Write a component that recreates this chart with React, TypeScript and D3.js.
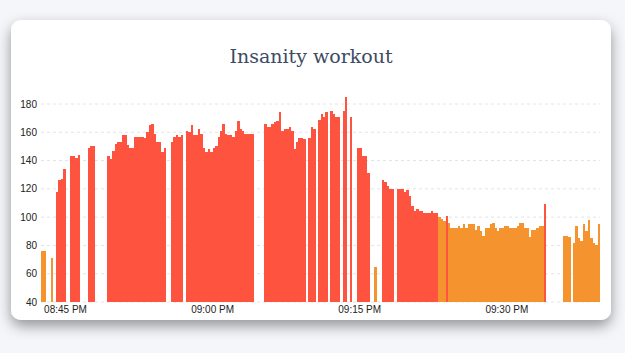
import React from "react";
import * as d3 from "d3";

// heart rate samples, one every 15 seconds from 08:42:30 PM (null = no reading)
const startTime = new Date(2017, 0, 15, 20, 42, 30);
const stepSeconds = 15;
const bpm: (number | null)[] = [
    76, 76, null, null, 71, null, 118, 126, 127, 134,
    null, null, 143, 143, 142, 144, null, null, null, 149,
    150, 150, null, null, null, null, null, 143, 141, 147,
    152, 153, 153, 158, 158, 151, 149, 149, 157, 157,
    157, 157, 156, 160, 165, 166, 159, 153, 153, 146,
    149, null, null, 153, 157, 158, 157, 158, null, 161,
    160, 165, 158, 158, 162, 159, 149, 146, 148, 146,
    149, 150, 157, 161, 166, 159, 158, 158, 157, 161,
    168, 162, 161, 159, 159, 159, 159, null, null, null,
    null, 166, 164, 164, 166, 167, 168, 174, 161, 162,
    162, 164, 161, 148, 153, 156, 156, 155, null, 156,
    164, 162, null, 169, 173, 171, 174, null, 175, 173,
    171, 171, null, 175, 185, null, 171, null, null, 149,
    149, 143, 143, 131, null, null, 65, null, null, 126,
    125, 122, 120, 120, null, 120, 120, 120, 118, 119,
    115, 108, 104, 106, 104, 104, 103, 103, 103, 104,
    103, 103, 100, 99, 97, 101, 96, 92, 92, 92,
    94, 92, 95, 92, 95, 95, 95, 91, 94, 90,
    87, 92, 92, 95, 96, 92, 90, 92, 92, 94,
    94, 92, 92, 92, 94, 96, 96, 92, 92, 86,
    91, 91, 92, 94, 94, 109, null, null, null, null,
    null, null, null, 87, 87, 86, null, 82, 94, 85,
    83, 95, 90, 98, 85, 82, 80, 95,
];
const yTicks = [40, 60, 80, 100, 120, 140, 160, 180];
const threshold = 100;

const W = 625;
const H = 353;

const InsanityChart = () => {
    const t = (i: number) => new Date(startTime.getTime() + i * stepSeconds * 1000);

    const x = d3.scaleTime().domain([t(0), t(bpm.length)]).range([41, 600]);
    const y = d3.scaleLinear().domain([40, 180]).range([302, 104]);
    const xTicks = x.ticks(d3.timeMinute.every(15) as d3.TimeInterval);
    const fmt = d3.timeFormat("%I:%M %p");

    return (
        <svg
            width={W}
            height={H}
            style={{ position: "absolute", left: 0, top: 0, background: "#f5f6fa" }}
        >
            <defs>
                <filter id="cardShadow" x="-10%" y="-10%" width="120%" height="130%">
                    <feDropShadow dx={0} dy={6} stdDeviation={7} floodColor="#000" floodOpacity={0.4} />
                </filter>
            </defs>
            <rect x={11} y={20} width={600} height={300} rx={10} fill="#fff" filter="url(#cardShadow)" />

            <text
                x={311}
                y={63}
                textAnchor="middle"
                fontFamily="'DejaVu Serif', serif"
                fontSize={19}
                fill="#3d4b63"
            >
                Insanity workout
            </text>

            {yTicks.map((v) => (
                <g key={v}>
                    <line
                        x1={41}
                        x2={600}
                        y1={y(v)}
                        y2={y(v)}
                        stroke="#e4e4e4"
                        strokeDasharray="3,3"
                    />
                    <text
                        x={37}
                        y={y(v)}
                        dy="0.35em"
                        textAnchor="end"
                        fontFamily="'Liberation Sans', Arial, sans-serif"
                        fontSize={10}
                        fill="#222"
                    >
                        {v}
                    </text>
                </g>
            ))}

            <g shapeRendering="crispEdges">
                {bpm.map((v, i) => {
                    if (v === null) return null;
                    const x0 = x(t(i));
                    const x1 = x(t(i + 1));
                    return (
                        <rect
                            key={i}
                            x={x0}
                            y={y(v)}
                            width={x1 - x0}
                            height={y(40) - y(v)}
                            fill={v > threshold ? "#fe533e" : "#f5932f"}
                        />
                    );
                })}
            </g>

            {xTicks.map((d, i) => (
                <text
                    key={i}
                    x={x(d)}
                    y={313}
                    textAnchor="middle"
                    fontFamily="'Liberation Sans', Arial, sans-serif"
                    fontSize={10}
                    fill="#222"
                >
                    {fmt(d)}
                </text>
            ))}
        </svg>
    );
};

export default function App() {
    return <InsanityChart />;
}
